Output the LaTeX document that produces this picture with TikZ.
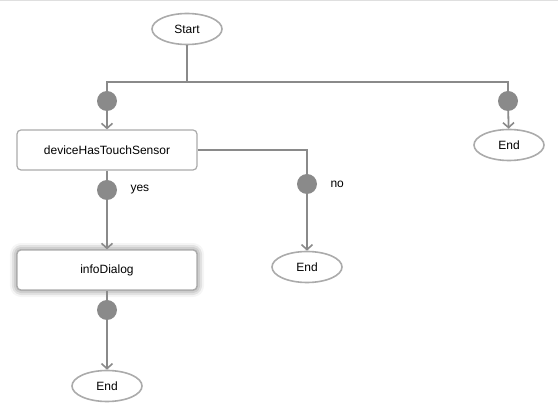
\documentclass[tikz,border=0pt]{standalone}
\usepackage{fontspec}
\setmainfont{Liberation Sans}
\usetikzlibrary{arrows.meta,shapes.geometric,shadows.blur}
\definecolor{wire}{HTML}{8A8A8A}
\definecolor{rim}{HTML}{ABABAB}
\tikzset{
	terminal/.style={ellipse, draw=rim, line width=1.6pt, fill=white, minimum width=70pt, minimum height=31pt, inner sep=0pt, font=\fontsize{12}{14}\selectfont},
	actionbox/.style={rectangle, rounded corners=4pt, draw=rim, line width=1.2pt, fill=white, minimum width=180pt, minimum height=40pt, inner sep=0pt, font=\fontsize{12}{14}\selectfont},
	junction/.style={circle, fill=wire, minimum size=20pt, inner sep=0pt},
	wireline/.style={draw=wire, line width=1.8pt},
	flow/.style={wireline, -{Straight Barb[length=5pt,width=11pt,line width=1.6pt]}},
	tag/.style={font=\fontsize{12}{14}\selectfont, anchor=west}
}
\begin{document}
\begin{tikzpicture}[x=1pt,y=-1pt]
					\useasboundingbox (0,0) rectangle (558,419);
					\draw[gray!25, line width=1pt] (0,0.5) -- (558,0.5);
					% nodes
					\node[terminal] (start) at (187,29) {Start};
					\node[junction] (jleft) at (107,101) {};
					\node[junction] (jright) at (508,101) {};
					\node[terminal] (endright) at (509,145) {End};
					\node[actionbox] (check) at (107,150) {deviceHasTouchSensor};
					\node[junction] (jyes) at (107,190) {};
					\node[tag] (lblyes) at (127,190) {yes};
					\node[junction] (jno) at (307,184) {};
					\node[tag] (lblno) at (327,184) {no};
					\node[terminal] (endno) at (307,267) {End};
					\node[actionbox, blur shadow={shadow xshift=0pt, shadow yshift=0pt, shadow blur radius=7pt, shadow opacity=60}] (info) at (107,270) {infoDialog};
					\node[junction] (jdone) at (107,310) {};
					\node[terminal] (enddone) at (107,386) {End};
					% top fork
					\coordinate (forkL) at (107,82);
					\coordinate (forkR) at (508,82);
					\draw[wireline] (start) -- (start |- forkL);
					\draw[wireline] (jleft) -- (forkL) -- (forkR) -- (jright);
					\draw[flow] (jleft) -- (check);
					\draw[flow] (jright) -- (endright);
					% yes / no
					\draw[wireline] (check) -- (jyes);
					\draw[flow] (jyes) -- (info);
					\draw[wireline] (check.east) -| (jno);
					\draw[flow] (jno) -- (endno);
					% after dialog
					\draw[wireline] (info) -- (jdone);
					\draw[flow] (jdone) -- (enddone);
\end{tikzpicture}
\end{document}
